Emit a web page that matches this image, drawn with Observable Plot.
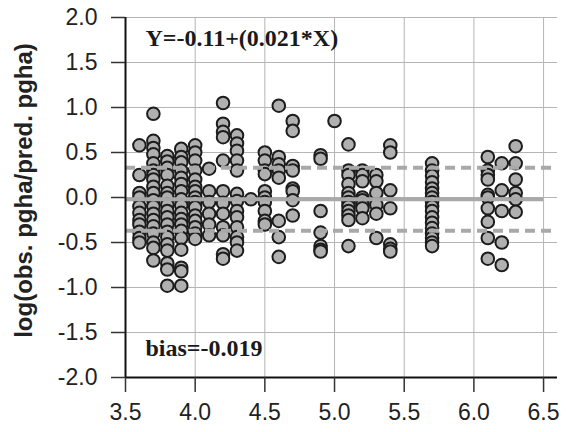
<!DOCTYPE html>
<html>
<head>
<meta charset="utf-8">
<script src="https://cdn.jsdelivr.net/npm/d3@7"></script>
<script src="https://cdn.jsdelivr.net/npm/@observablehq/plot@0.6"></script>
<style>
  html, body { margin: 0; padding: 0; background: #fff; }
  #chart { width: 568px; height: 432px; }
</style>
</head>
<body>
<div id="chart"></div>
<script>
// Predictor levels (x) and the log-ratio residuals observed at each level (y)
const xLevels = [3.6, 3.7, 3.8, 3.9, 4.0, 4.1, 4.2, 4.3, 4.4, 4.5, 4.6, 4.7, 4.9, 5.0, 5.1, 5.2, 5.3, 5.4, 5.7, 6.1, 6.2, 6.3];
const yLevels = [
  [0.58, 0.25, 0.05, 0.0, -0.1, -0.17, -0.25, -0.3, -0.38, -0.45, -0.5],
  [0.93, 0.63, 0.55, 0.48, 0.38, 0.3, 0.25, 0.2, 0.12, 0.05, -0.03, -0.1, -0.18, -0.25, -0.32, -0.4, -0.5, -0.56, -0.7],
  [0.46, 0.4, 0.33, 0.25, 0.13, 0.05, 0.0, -0.08, -0.15, -0.22, -0.3, -0.38, -0.44, -0.52, -0.59, -0.73, -0.8, -0.98],
  [0.54, 0.45, 0.39, 0.3, 0.22, 0.15, 0.07, -0.02, -0.09, -0.17, -0.24, -0.3, -0.37, -0.45, -0.58, -0.78, -0.82, -0.98],
  [0.58, 0.5, 0.41, 0.3, 0.2, 0.12, 0.07, 0.0, -0.05, -0.11, -0.2, -0.26, -0.33, -0.4, -0.46],
  [0.32, 0.07, -0.05, -0.18, -0.3, -0.42],
  [1.05, 0.82, 0.73, 0.67, 0.41, 0.07, -0.06, -0.18, -0.33, -0.42, -0.63, -0.68],
  [0.69, 0.6, 0.52, 0.41, 0.3, 0.04, -0.04, -0.15, -0.22, -0.33, -0.44, -0.5, -0.59],
  [-0.02],
  [0.5, 0.41, 0.3, 0.26, 0.07, 0.0, -0.05, -0.15, -0.26, -0.3],
  [1.02, 0.45, 0.37, 0.3, 0.22, -0.26, -0.44, -0.66],
  [0.85, 0.74, 0.35, 0.3, 0.1, 0.07, -0.03, -0.2],
  [0.47, 0.43, -0.15, -0.39, -0.54, -0.58, -0.6],
  [0.85],
  [0.59, 0.3, 0.25, 0.15, 0.05, 0.0, -0.05, -0.1, -0.15, -0.2, -0.25, -0.54],
  [0.3, 0.25, 0.18, 0.0, -0.03, -0.08, -0.12, -0.23],
  [0.25, 0.18, 0.05, -0.08, -0.18, -0.45],
  [0.58, 0.5, 0.08, -0.12, -0.52, -0.57, -0.6],
  [0.38, 0.3, 0.24, 0.17, 0.1, 0.05, 0.0, -0.05, -0.1, -0.15, -0.22, -0.28, -0.34, -0.4, -0.45, -0.5, -0.54],
  [0.45, 0.3, 0.25, 0.2, 0.03, 0.0, -0.12, -0.27, -0.45, -0.68],
  [0.38, 0.08, -0.15, -0.5, -0.75],
  [0.57, 0.38, 0.2, 0.05, -0.02, -0.16]
];

// Mean bias and the dashed agreement limits around it
const bias = -0.019;
const limits = [0.33, -0.37];

// Axis ticks
const xTicks = [3.5, 4.0, 4.5, 5.0, 5.5, 6.0, 6.5];
const yTicks = [-2.0, -1.5, -1.0, -0.5, 0.0, 0.5, 1.0, 1.5, 2.0];

// Text
const yTitle = "log(obs. pgha/pred. pgha)";
const fitText = "Y=-0.11+(0.021*X)";
const biasText = "bias=-0.019";

const points = xLevels.flatMap((x, i) => yLevels[i].map(y => ({x, y})));
const fmt = d => d.toFixed(1);
const grey = "#a9a9a9";
const serif = "'Liberation Serif', 'Times New Roman', serif";

const chart = Plot.plot({
  width: 568,
  height: 432,
  marginLeft: 125,
  marginRight: 11,
  marginTop: 17,
  marginBottom: 55,
  style: {fontFamily: "'Liberation Sans', Arial, Helvetica, sans-serif", background: "#fff", color: "#222"},
  x: {domain: [3.5, 6.6], axis: null},
  y: {domain: [-2, 2], axis: null},
  marks: [
    Plot.gridX(xTicks, {stroke: "#b5b5b5", strokeOpacity: 1, strokeWidth: 1}),
    Plot.gridY(yTicks, {stroke: "#b5b5b5", strokeOpacity: 1, strokeWidth: 1}),
    Plot.dot(points, {x: "x", y: "y", r: 6.3, fill: "#b0b0b0", stroke: "#1c1c1c", strokeWidth: 2}),
    Plot.ruleY(limits, {x1: 3.5, x2: 6.6, stroke: grey, strokeWidth: 4, strokeDasharray: "10,6"}),
    Plot.ruleY([bias], {x1: 3.5, x2: 6.5, stroke: grey, strokeWidth: 4}),
    Plot.ruleX([3.5], {y1: -2, y2: 2, stroke: "#111", strokeWidth: 2}),
    Plot.ruleY([-2], {x1: 3.5, x2: 6.6, stroke: "#111", strokeWidth: 2}),
    Plot.axisX(xTicks, {tickSize: 15, tickPadding: 11, tickFormat: fmt, fontSize: 23, stroke: "#333", strokeWidth: 1.5, label: null}),
    Plot.axisY(yTicks, {tickSize: 14, tickPadding: 14, tickFormat: fmt, fontSize: 23, stroke: "#333", strokeWidth: 1.5, label: null}),
    Plot.text([yTitle], {frameAnchor: "left", text: d => d, rotate: -90, textAnchor: "middle", lineAnchor: "middle", dx: -101, dy: -7, fontSize: 24, fontWeight: "bold", fill: "#222"}),
    Plot.text([fitText], {frameAnchor: "top-left", text: d => d, dx: 20, dy: 21, textAnchor: "start", lineAnchor: "middle", fontSize: 24, fontWeight: "bold", fontFamily: serif, fill: "#1a1a1a"}),
    Plot.text([biasText], {frameAnchor: "bottom-left", text: d => d, dx: 20, dy: -29, textAnchor: "start", lineAnchor: "middle", fontSize: 24, fontWeight: "bold", fontFamily: serif, fill: "#1a1a1a"})
  ]
});

document.getElementById("chart").appendChild(chart);
</script>
</body>
</html>
